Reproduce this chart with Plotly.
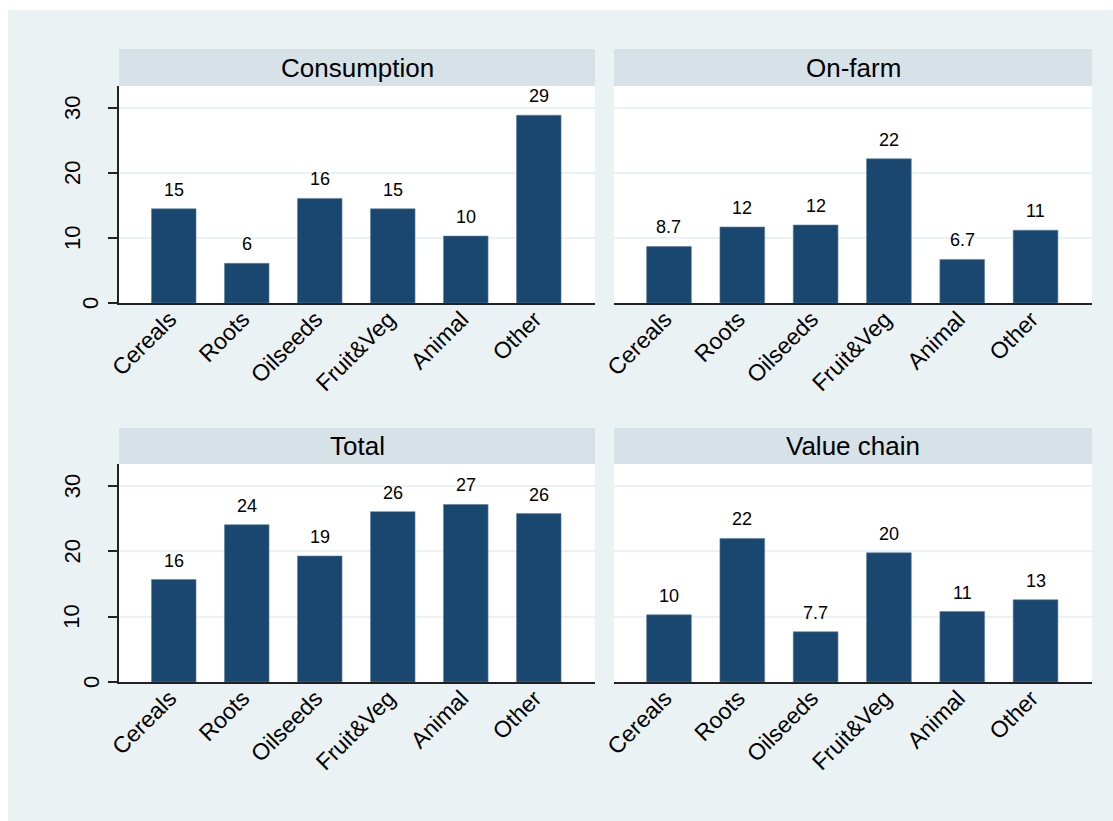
import plotly.graph_objects as go

categories = ["Cereals", "Roots", "Oilseeds", "Fruit&Veg", "Animal", "Other"]
panel_titles = ["Consumption", "On-farm", "Total", "Value chain"]

consumption = [14.5, 6.1, 16.1, 14.5, 10.3, 28.9]
consumption_labels = ["15", "6", "16", "15", "10", "29"]
on_farm = [8.7, 11.7, 12.0, 22.2, 6.7, 11.2]
on_farm_labels = ["8.7", "12", "12", "22", "6.7", "11"]
total = [15.7, 24.1, 19.3, 26.1, 27.2, 25.8]
total_labels = ["16", "24", "19", "26", "27", "26"]
value_chain = [10.3, 22.0, 7.7, 19.8, 10.8, 12.6]
value_chain_labels = ["10", "22", "7.7", "20", "11", "13"]
y_ticks = [0, 10, 20, 30]
y_tick_labels = ["0", "10", "20", "30"]

W, H = 1113, 821
FONT = "Liberation Sans, Arial, sans-serif"
BAR = "#1A476F"
BG = "#EAF2F3"
STRIP = "#D6E2E8"

# pixel layout of panels (x0, x1) and (plot_top, plot_bottom, strip_top)
cols = [(119, 595), (614, 1092)]
rows = [(86, 303, 49), (464, 682, 428)]

panels = [
    (consumption, consumption_labels),
    (on_farm, on_farm_labels),
    (total, total_labels),
    (value_chain, value_chain_labels),
]

fig = go.Figure()
shapes = []
annotations = []

# white outer border
shapes.append(dict(type="rect", xref="paper", yref="paper", x0=0, x1=8 / W, y0=0, y1=1,
                   fillcolor="white", line_width=0, layer="below"))
shapes.append(dict(type="rect", xref="paper", yref="paper", x0=0, x1=1, y0=1 - 10 / H, y1=1,
                   fillcolor="white", line_width=0, layer="below"))

for i, (vals, labs) in enumerate(panels):
    r, c = divmod(i, 2)
    x0, x1 = cols[c]
    top, bot, stop = rows[r]
    n = i + 1
    xa = "x" if n == 1 else f"x{n}"
    ya = "y" if n == 1 else f"y{n}"
    fig.add_trace(go.Bar(
        x=categories, y=vals, xaxis=xa, yaxis=ya, width=0.61,
        marker=dict(color=BAR, line=dict(color="#5E7F9E", width=0.6)),
        showlegend=False, hoverinfo="x+y",
    ))
    for cat, v, t in zip(categories, vals, labs):
        annotations.append(dict(x=cat, y=v, xref=xa, yref=ya, text=t, showarrow=False,
                                yanchor="middle", yshift=19,
                                font=dict(family=FONT, size=18, color="black")))
    left = c == 0
    if left:
        for tv, tl in zip(y_ticks, y_tick_labels):
            cx = 91 if tv == 0 else 72
            annotations.append(dict(x=cx / W, xref="paper", y=tv, yref=ya, text=tl,
                                    showarrow=False, textangle=-90,
                                    xanchor="center", yanchor="middle",
                                    font=dict(family=FONT, size=22, color="black")))
    xdom = [x0 / W, x1 / W]
    ydom = [1 - bot / H, 1 - top / H]
    fig.layout[f"xaxis{'' if n == 1 else n}"] = dict(
        domain=xdom, anchor=ya, range=[-0.75, 5.77], type="category",
        tickangle=-45, tickfont=dict(family=FONT, size=23, color="black"),
        showline=True, linecolor="#222", linewidth=1.5, ticks="", showgrid=False,
        automargin=False, ticklabelstandoff=-8, ticklabelshift=-4,
        fixedrange=True,
    )
    fig.layout[f"yaxis{'' if n == 1 else n}"] = dict(
        domain=ydom, anchor=xa, range=[0, 33.4], tickvals=y_ticks,
        showticklabels=False, automargin=False,
        ticks="outside" if left else "", ticklen=9, tickwidth=1.5, tickcolor="#222",
        showline=left, linecolor="#222", linewidth=1.5,
        showgrid=True, gridcolor=BG, gridwidth=1.5, zeroline=False,
        fixedrange=True,
    )
    # strip
    shapes.append(dict(type="rect", xref="paper", yref="paper",
                       x0=x0 / W, x1=x1 / W, y0=1 - top / H, y1=1 - stop / H,
                       fillcolor=STRIP, line_width=0, layer="below"))
    annotations.append(dict(xref="paper", yref="paper", x=(x0 + x1) / 2 / W,
                            y=1 - (top + stop) / 2 / H, text=panel_titles[i],
                            showarrow=False, xanchor="center", yanchor="middle",
                            font=dict(family=FONT, size=26, color="black")))

fig.update_layout(
    width=W, height=H, autosize=False,
    margin=dict(l=0, r=0, t=0, b=0, pad=0, autoexpand=False),
    paper_bgcolor=BG, plot_bgcolor="white",
    shapes=shapes, annotations=annotations,
    bargap=0.39,
)

fig.write_html(
    "out.html",
    config={"displayModeBar": False},
    post_script="document.body.style.margin='0';document.body.style.overflow='hidden';",
)
